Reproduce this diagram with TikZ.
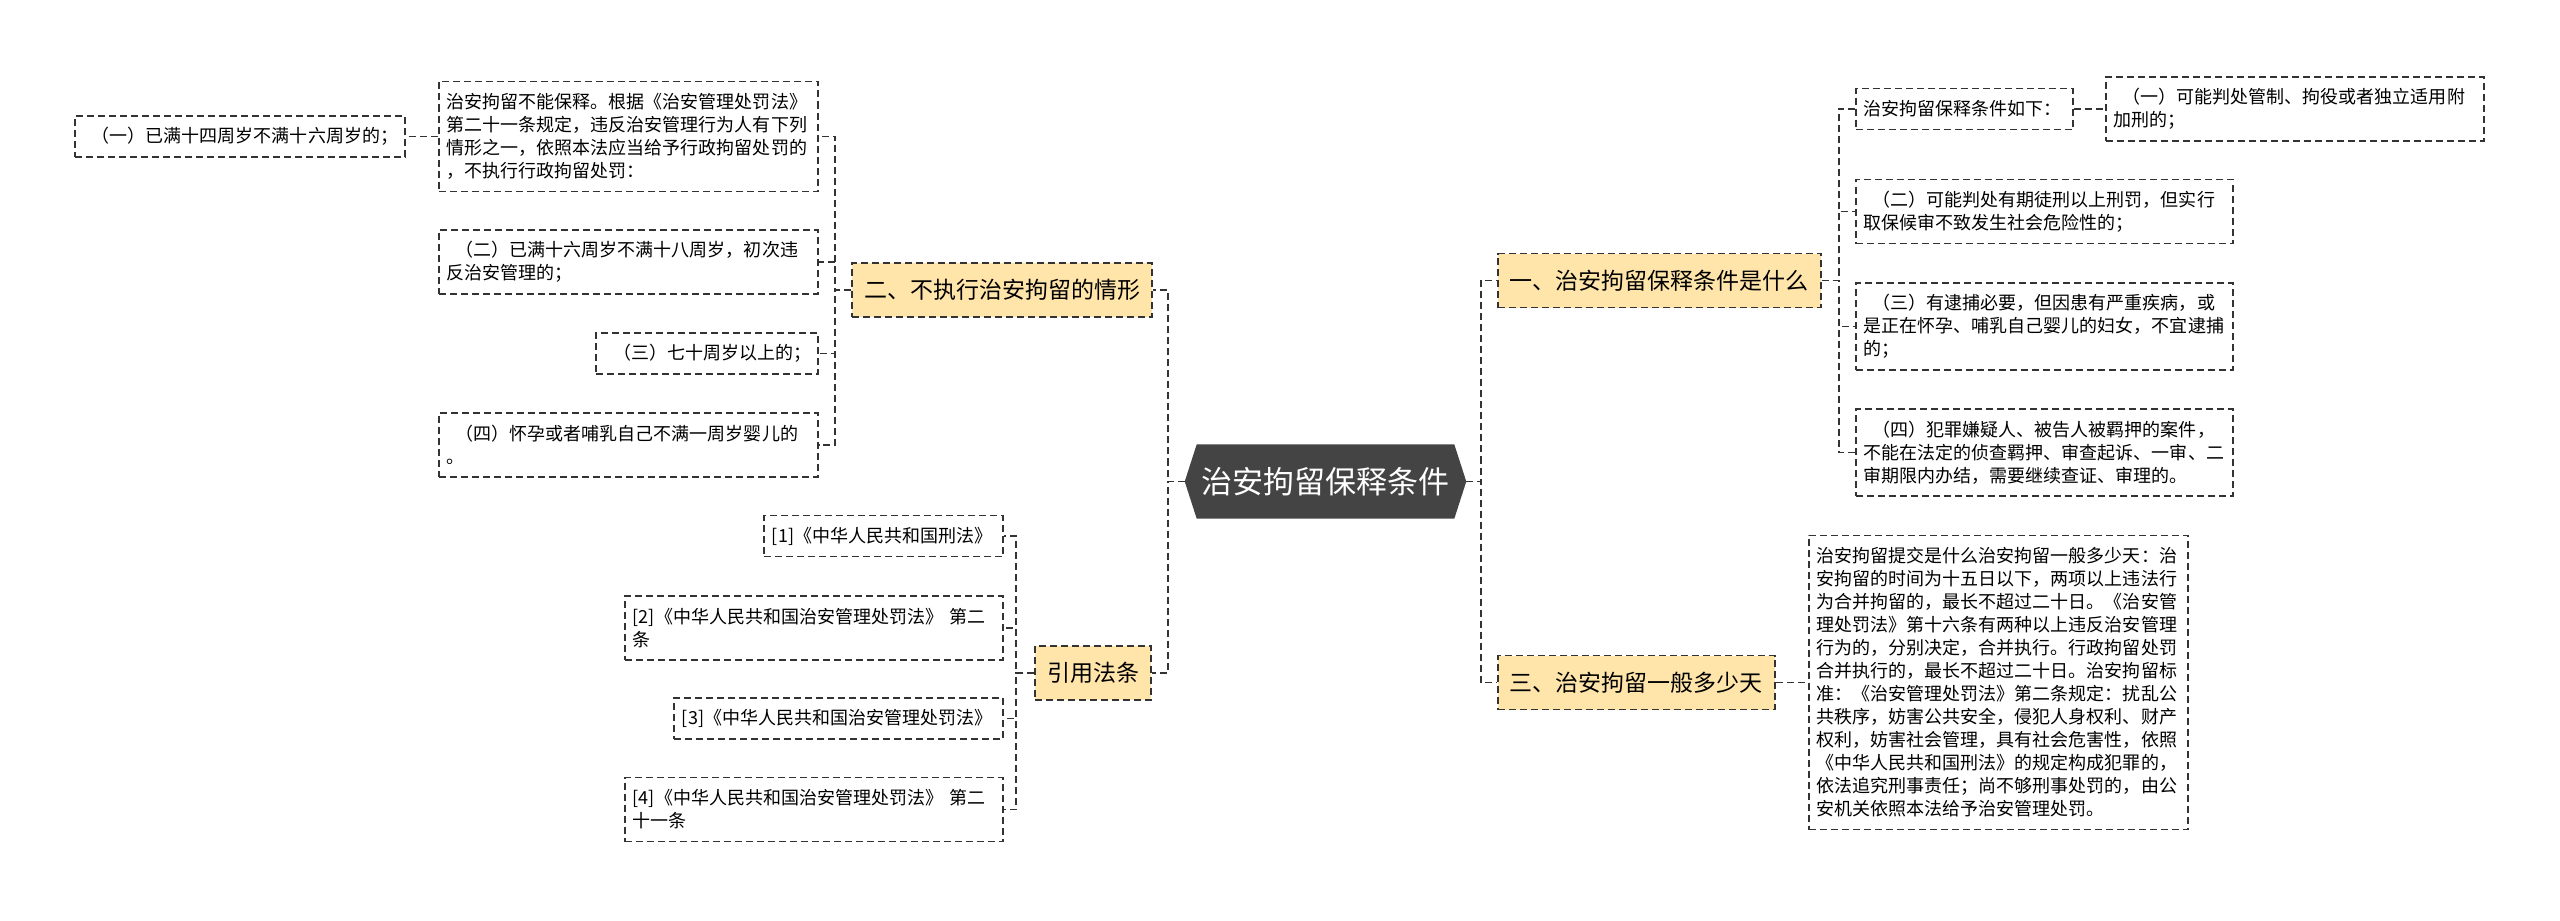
\documentclass[tikz,border=0pt]{standalone}
\usepackage{fontspec}
\setmainfont{Noto Sans CJK SC}
\usepackage{xcolor}
\usetikzlibrary{positioning,calc,backgrounds}
\definecolor{topicfill}{RGB}{255,229,170}
\definecolor{hubfill}{RGB}{68,68,68}
\definecolor{linegray}{RGB}{51,51,51}
\newcommand{\leadgap}{\hspace*{0.5em}}

\begin{document}
\begin{tikzpicture}[x=0.01cm, y=-0.01cm,
  dsh/.style={line width=0.5pt, dash pattern=on 0.07cm off 0.04cm},
  leaf/.style={dsh, draw=linegray, fill=white, align=left, inner xsep=0.08cm, inner ysep=0pt,
    font=\fontsize{5.12}{6.54}\selectfont, minimum height={0.18cm+#1*0.23cm}},
  topic/.style={dsh, draw=linegray, fill=topicfill, inner xsep=0.12cm, inner ysep=0pt,
    minimum height=0.54cm, font=\fontsize{6.54}{8}\selectfont},
  hub/.style={text=white, inner sep=0pt, minimum width=2.56cm, minimum height=0.73cm,
    font=\fontsize{8.82}{10}\selectfont},
  conn/.style={dsh, draw=linegray}]
% mind map: centre hexagon, four topics, dashed leaf boxes
\useasboundingbox (0,0) rectangle (2560,920);

\node[hub] (root) at (1325.5,481.5) {治安拘留保释条件};
\begin{scope}[on background layer]
\fill[hubfill] (root.north west) -- (root.north east) -- ($(root.east)+(12,0)$) -- (root.south east)
  -- (root.south west) -- ($(root.west)+(-12,0)$) -- cycle;
\end{scope}
\coordinate (rootL) at ($(root.west)+(-12,0)$);
\coordinate (rootR) at ($(root.east)+(12,0)$);

\node[topic, anchor=east] (t2) at (1153,290) {二、不执行治安拘留的情形};
\node[topic, anchor=east] (t4) at (1152,673) {引用法条};
\node[topic, anchor=west] (t1) at (1497,280.5) {一、治安拘留保释条件是什么};
\node[topic, anchor=west] (t3) at (1497,682.5) {三、治安拘留一般多少天};

% left: 不执行的情形
\node[leaf=4, text width=3.63cm, anchor=east] (a0) at (819,136.5)
  {治安拘留不能保释。根据《治安管理处罚法》\\第二十一条规定，违反治安管理行为人有下列\\情形之一，依照本法应当给予行政拘留处罚的\\，不执行行政拘留处罚：};
\node[leaf=1, text width=3.14cm, anchor=east] (a0x) at (406,136.5) {\leadgap（一）已满十四周岁不满十六周岁的；};
\node[leaf=2, text width=3.63cm, anchor=east] (a1) at (819,262)
  {\leadgap（二）已满十六周岁不满十八周岁，初次违\\反治安管理的；};
\node[leaf=1, text width=2.06cm, anchor=east] (a2) at (819,353.5) {\leadgap（三）七十周岁以上的；};
\node[leaf=2, text width=3.63cm, anchor=east] (a3) at (819,445)
  {\leadgap（四）怀孕或者哺乳自己不满一周岁婴儿的\\。};

% left: 引用法条
\node[leaf=1, text width=2.23cm, anchor=east] (f1) at (1004,536) {[1]《中华人民共和国刑法》};
\node[leaf=2, text width=3.62cm, anchor=east] (f2) at (1004,628) {[2]《中华人民共和国治安管理处罚法》 第二\\条};
\node[leaf=1, text width=3.13cm, anchor=east] (f3) at (1004,718.5) {[3]《中华人民共和国治安管理处罚法》};
\node[leaf=2, text width=3.62cm, anchor=east] (f4) at (1004,809.5) {[4]《中华人民共和国治安管理处罚法》 第二\\十一条};

% right: 保释条件
\node[leaf=1, text width=2.01cm, anchor=west] (b0) at (1855,109) {治安拘留保释条件如下：};
\node[leaf=2, text width=3.62cm, anchor=west] (b0x) at (2105,109)
  {\leadgap（一）可能判处管制、拘役或者独立适用附\\加刑的；};
\node[leaf=2, text width=3.61cm, anchor=west] (b1) at (1855,211.5)
  {\leadgap（二）可能判处有期徒刑以上刑罚，但实行\\取保候审不致发生社会危险性的；};
\node[leaf=3, text width=3.61cm, anchor=west] (b2) at (1855,326.5)
  {\leadgap（三）有逮捕必要，但因患有严重疾病，或\\是正在怀孕、哺乳自己婴儿的妇女，不宜逮捕\\的；};
\node[leaf=3, text width=3.61cm, anchor=west] (b3) at (1855,452.5)
  {\leadgap（四）犯罪嫌疑人、被告人被羁押的案件，\\不能在法定的侦查羁押、审查起诉、一审、二\\审期限内办结，需要继续查证、审理的。};

% right: 一般多少天
\node[leaf=12, text width=3.63cm, anchor=west] (c0) at (1808,682.5)
  {治安拘留提交是什么治安拘留一般多少天：治\\安拘留的时间为十五日以下，两项以上违法行\\为合并拘留的，最长不超过二十日。《治安管\\理处罚法》第十六条有两种以上违反治安管理\\行为的，分别决定，合并执行。行政拘留处罚\\合并执行的，最长不超过二十日。治安拘留标\\准：《治安管理处罚法》第二条规定：扰乱公\\共秩序，妨害公共安全，侵犯人身权利、财产\\权利，妨害社会管理，具有社会危害性，依照\\《中华人民共和国刑法》的规定构成犯罪的，\\依法追究刑事责任；尚不够刑事处罚的，由公\\安机关依照本法给予治安管理处罚。};

\draw[conn] (rootL) -- ++(-17,0) |- (t2.east);
\draw[conn] (rootL) -- ++(-17,0) |- (t4.east);
\draw[conn] (rootR) -- ++(15,0) |- (t1.west);
\draw[conn] (rootR) -- ++(15,0) |- (t3.west);
\foreach \n in {a0,a1,a2,a3} \draw[conn] (t2.west) -- ++(-16,0) |- (\n.east);
\draw[conn] (a0.west) -- (a0x.east);
\foreach \n in {f1,f2,f3,f4} \draw[conn] (t4.west) -- ++(-18,0) |- (\n.east);
\foreach \n in {b0,b1,b2,b3} \draw[conn] (t1.east) -- ++(17,0) |- (\n.west);
\draw[conn] (b0.east) -- (b0x.west);
\draw[conn] (t3.east) -- (c0.west);
\end{tikzpicture}
\end{document}
